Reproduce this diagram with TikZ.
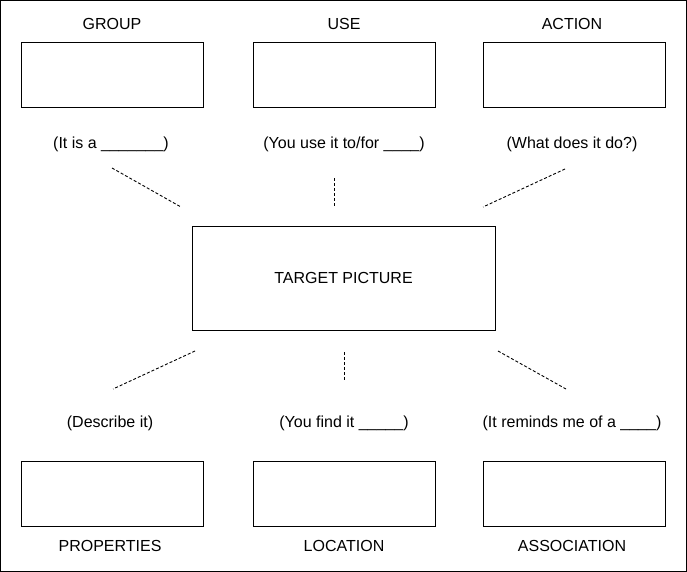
\documentclass[tikz,border=0pt]{standalone}
\usepackage{fontspec}
\setmainfont{Liberation Sans}
\begin{document}
\begin{tikzpicture}[x=1pt,y=-1pt,
 box/.style={draw,line width=0.8pt,inner sep=0},
 lbl/.style={font=\fontsize{16}{18}\selectfont,inner sep=0},
 dashed link/.style={line width=0.9pt,dash pattern=on 3pt off 2pt}]
\useasboundingbox (0,0) rectangle (687,572);
\draw[line width=0.8pt] (0.5,0.5) rectangle (686.5,571.5);
\foreach \n/\x in {a/21,b/253,c/483}{
 \draw[box] (\x,42) rectangle ++(182,65);
 \draw[box] (\x,461) rectangle ++(182,65);}
\node[draw,line width=0.8pt,minimum width=303pt,minimum height=104pt,lbl] (t) at (343.5,278) {TARGET PICTURE};
\node[lbl] (g) at (112,24) {GROUP};
\node[lbl] (u) at (344,24) {USE};
\node[lbl] (ac) at (572,24) {ACTION};
\node[lbl] at (111,144) {(It is a \_\_\_\_\_\_\_)};
\node[lbl] at (344,144) {(You use it to/for \_\_\_\_)};
\node[lbl] at (572,144) {(What does it do?)};
\node[lbl] at (110,423) {(Describe it)};
\node[lbl] at (344,423) {(You find it \_\_\_\_\_)};
\node[lbl] at (572,423) {(It reminds me of a \_\_\_\_)};
\node[lbl] at (110,546) {PROPERTIES};
\node[lbl] at (344,546) {LOCATION};
\node[lbl] at (572,546) {ASSOCIATION};
\coordinate (p1) at (112,168); \coordinate (q1) at (181,207);
\coordinate (p2) at (334,178); \coordinate (q2) at (334,207);
\coordinate (p3) at (565,169); \coordinate (q3) at (483,207);
\coordinate (p4) at (195,351); \coordinate (q4) at (113,389);
\coordinate (p5) at (344,352); \coordinate (q5) at (344,380);
\coordinate (p6) at (498,351); \coordinate (q6) at (566,389);
\foreach \i in {1,...,6}{\draw[dashed link] (p\i) -- (q\i);}
\end{tikzpicture}
\end{document}
